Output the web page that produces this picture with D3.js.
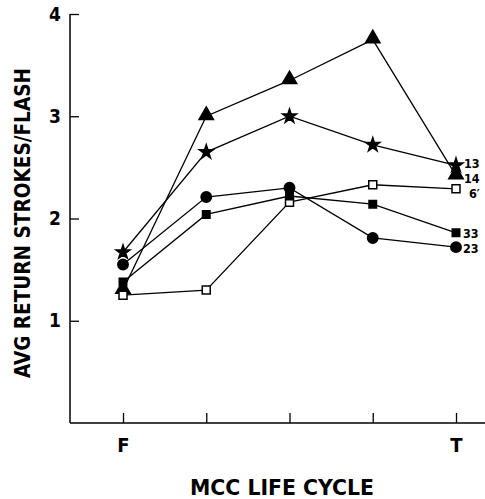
<!DOCTYPE html>
<html>
<head>
<meta charset="utf-8">
<script src="https://cdn.jsdelivr.net/npm/d3@7"></script>
<style>
  body { margin: 0; background: #fff; }
  text { font-family: "DejaVu Sans", sans-serif; font-stretch: condensed; font-weight: bold; fill: #000; }
</style>
</head>
<body>
<div id="chart"></div>
<script>
// stages of the MCC life cycle (first = F, last = T)
var stages = ["F", "s2", "s3", "s4", "T"];
var stageLabels = ["F", "", "", "", "T"];
var yTicks = [1, 2, 3, 4];

// series values
var seriesNames = ["13", "14", "6\u2032", "33", "23"];
var star13 = [1.67, 2.65, 3.0, 2.72, 2.52];
var tri14 = [1.30, 3.0, 3.35, 3.75, 2.42];
var open6 = [1.25, 1.30, 2.16, 2.33, 2.29];
var sq33 = [1.38, 2.04, 2.22, 2.14, 1.86];
var circ23 = [1.55, 2.21, 2.30, 1.81, 1.72];

var svgWidth = 485;
var svgHeight = 499;

var svg = d3.select("#chart")
  .append("svg")
  .attr("width", svgWidth)
  .attr("height", svgHeight);

var x = d3.scalePoint()
  .domain(stages)
  .range([123, 456]);

var y = d3.scaleLinear()
  .domain([0, 4])
  .range([423, 14]);

// axes lines
svg.append("line")
  .attr("x1", 70).attr("x2", 70)
  .attr("y1", y(4)).attr("y2", y(0))
  .attr("stroke", "#000").attr("stroke-width", 1.5);
svg.append("line")
  .attr("x1", 70).attr("x2", 485)
  .attr("y1", y(0)).attr("y2", y(0))
  .attr("stroke", "#000").attr("stroke-width", 1.5);

var yAxis = svg.append("g")
  .attr("transform", "translate(70,0)")
  .call(d3.axisLeft(y).tickValues(yTicks).tickSize(-9).tickPadding(9).tickFormat(d3.format("d")));
yAxis.select(".domain").remove();
yAxis.selectAll("line").attr("stroke-width", 1.3);
yAxis.selectAll("text").style("font-size", "19px").style("font-family", null);

var xAxis = svg.append("g")
  .attr("transform", "translate(0," + y(0) + ")")
  .call(d3.axisBottom(x).tickSize(-10).tickPadding(15).tickFormat(function(d, i) { return stageLabels[i]; }));
xAxis.select(".domain").remove();
xAxis.selectAll("line").attr("stroke-width", 1.3);
xAxis.selectAll("text").style("font-size", "20px").style("font-family", null);

// axis titles
svg.append("text")
  .attr("x", 190)
  .attr("y", 495)
  .attr("textLength", 184)
  .attr("lengthAdjust", "spacingAndGlyphs")
  .style("font-size", "22px")
  .text("MCC LIFE CYCLE");

svg.append("text")
  .attr("transform", "translate(30,378) rotate(-90)")
  .attr("textLength", 310)
  .attr("lengthAdjust", "spacingAndGlyphs")
  .style("font-size", "22px")
  .text("AVG RETURN STROKES/FLASH");

var series = [
  { name: seriesNames[0], values: star13, symbol: d3.symbolStar, size: 60, fill: "#000" },
  { name: seriesNames[1], values: tri14, symbol: d3.symbolTriangle, size: 90, fill: "#000" },
  { name: seriesNames[2], values: open6, symbol: d3.symbolSquare, size: 64, fill: "#fff" },
  { name: seriesNames[3], values: sq33, symbol: d3.symbolSquare, size: 56, fill: "#000" },
  { name: seriesNames[4], values: circ23, symbol: d3.symbolCircle, size: 85, fill: "#000" }
];

var line = d3.line()
  .x(function(d, i) { return x(stages[i]); })
  .y(function(d) { return y(d); });

series.forEach(function(s) {
  svg.append("path")
    .datum(s.values)
    .attr("d", line)
    .attr("fill", "none")
    .attr("stroke", "#000")
    .attr("stroke-width", 1.3);
});

series.forEach(function(s) {
  svg.selectAll(null)
    .data(s.values)
    .enter()
    .append("path")
    .attr("d", d3.symbol().type(s.symbol).size(s.size))
    .attr("transform", function(d, i) {
      var dy = s.symbol === d3.symbolTriangle ? -1 : 0;
      return "translate(" + x(stages[i]) + "," + (y(d) + dy) + ")";
    })
    .attr("fill", s.fill)
    .attr("stroke", "#000")
    .attr("stroke-width", 1.5);
});

// end labels
var labelX = [464, 464, 469, 463, 463];
var labelY = [168, 183, 198, 238, 253];
series.forEach(function(s, i) {
  svg.append("text")
    .attr("x", labelX[i])
    .attr("y", labelY[i])
    .style("font-size", "12.5px")
    .text(s.name);
});
</script>
</body>
</html>
